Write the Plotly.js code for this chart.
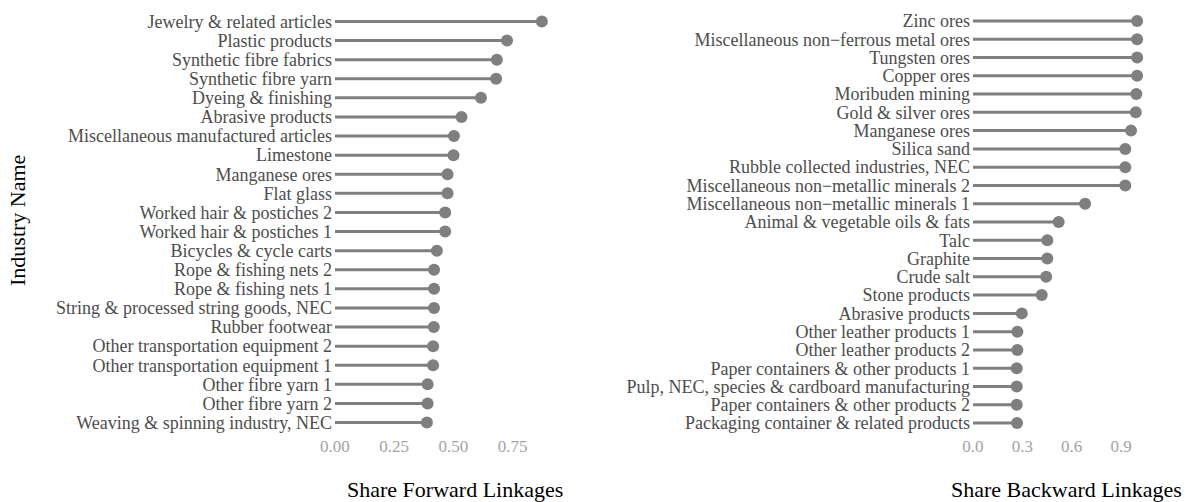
<!DOCTYPE html>
<html>
<head>
<meta charset="utf-8">
<script src="https://cdn.plot.ly/plotly-3.0.1.min.js"></script>
<style>html,body{margin:0;padding:0;background:#fff;}#chart{width:1185px;height:502px;}</style>
</head>
<body>
<div id="chart"></div>
<script>
// Forward linkages (top to bottom as drawn)
const forwardIndustries = [
  "Jewelry & related articles",
  "Plastic products",
  "Synthetic fibre fabrics",
  "Synthetic fibre yarn",
  "Dyeing & finishing",
  "Abrasive products",
  "Miscellaneous manufactured articles",
  "Limestone",
  "Manganese ores",
  "Flat glass",
  "Worked hair & postiches 2",
  "Worked hair & postiches 1",
  "Bicycles & cycle carts",
  "Rope & fishing nets 2",
  "Rope & fishing nets 1",
  "String & processed string goods, NEC",
  "Rubber footwear",
  "Other transportation equipment 2",
  "Other transportation equipment 1",
  "Other fibre yarn 1",
  "Other fibre yarn 2",
  "Weaving & spinning industry, NEC"
];
const forwardShares = [
  0.873, 0.726, 0.683, 0.680, 0.616, 0.534, 0.502, 0.500, 0.475, 0.475,
  0.465, 0.465, 0.430, 0.418, 0.418, 0.418, 0.417, 0.414, 0.414, 0.391,
  0.391, 0.388
];

// Backward linkages (top to bottom as drawn)
const backwardIndustries = [
  "Zinc ores",
  "Miscellaneous non\u2212ferrous metal ores",
  "Tungsten ores",
  "Copper ores",
  "Moribuden mining",
  "Gold & silver ores",
  "Manganese ores",
  "Silica sand",
  "Rubble collected industries, NEC",
  "Miscellaneous non\u2212metallic minerals 2",
  "Miscellaneous non\u2212metallic minerals 1",
  "Animal & vegetable oils & fats",
  "Talc",
  "Graphite",
  "Crude salt",
  "Stone products",
  "Abrasive products",
  "Other leather products 1",
  "Other leather products 2",
  "Paper containers & other products 1",
  "Pulp, NEC, species & cardboard manufacturing",
  "Paper containers & other products 2",
  "Packaging container & related products"
];
const backwardShares = [
  0.998, 0.998, 0.998, 0.998, 0.993, 0.990, 0.961, 0.926, 0.926, 0.926,
  0.682, 0.521, 0.452, 0.452, 0.445, 0.418, 0.297, 0.270, 0.270, 0.266,
  0.266, 0.266, 0.268
];

const forwardTicks = [0, 0.25, 0.5, 0.75];
const forwardTickText = ["0.00", "0.25", "0.50", "0.75"];
const backwardTicks = [0, 0.3, 0.6, 0.9];
const backwardTickText = ["0.0", "0.3", "0.6", "0.9"];

const FONT = "Liberation Serif, Times New Roman, serif";
const GREY = "#7f7f7f";

function stems(cats, vals) {
  const x = [], y = [];
  cats.forEach((c, i) => { x.push(0, vals[i], null); y.push(c, c, null); });
  return {x, y};
}

const fs = stems(forwardIndustries, forwardShares);
const bs = stems(backwardIndustries, backwardShares);

const traces = [
  {type: "scatter", mode: "lines", x: fs.x, y: fs.y, xaxis: "x", yaxis: "y",
   line: {color: GREY, width: 3}, hoverinfo: "skip", showlegend: false},
  {type: "scatter", mode: "markers", x: forwardShares, y: forwardIndustries, xaxis: "x", yaxis: "y",
   marker: {color: GREY, size: 12}, showlegend: false},
  {type: "scatter", mode: "lines", x: bs.x, y: bs.y, xaxis: "x2", yaxis: "y2",
   line: {color: GREY, width: 3}, hoverinfo: "skip", showlegend: false},
  {type: "scatter", mode: "markers", x: backwardShares, y: backwardIndustries, xaxis: "x2", yaxis: "y2",
   marker: {color: GREY, size: 12}, showlegend: false}
];

const yDomain = [(502 - 434) / 502, (502 - 10) / 502];
const tickFont = {family: FONT, size: 17, color: "#a3a3a3"};
const catFont = {family: FONT, size: 18, color: "#4d4d4d"};

const layout = {
  width: 1185, height: 502,
  margin: {l: 0, r: 0, t: 0, b: 0},
  paper_bgcolor: "#fff", plot_bgcolor: "#fff",
  font: {family: FONT},
  showlegend: false,
  xaxis: {domain: [333 / 1185, 553 / 1185], range: [-0.0084, 0.92], anchor: "y",
          tickvals: forwardTicks, ticktext: forwardTickText, tickfont: tickFont,
          showgrid: false, zeroline: false, showline: false, ticks: ""},
  yaxis: {domain: yDomain, type: "category", anchor: "x",
          categoryorder: "array", categoryarray: forwardIndustries.slice().reverse(),
          tickmode: "array", tickvals: forwardIndustries, ticktext: forwardIndustries,
          range: [-0.6, forwardIndustries.length - 0.4], tickfont: catFont,
          showgrid: false, zeroline: false, showline: false, ticks: "", ticklabelstandoff: 0},
  xaxis2: {domain: [971 / 1185, 1146 / 1185], range: [-0.012, 1.052], anchor: "y2",
           tickvals: backwardTicks, ticktext: backwardTickText, tickfont: tickFont,
           showgrid: false, zeroline: false, showline: false, ticks: ""},
  yaxis2: {domain: yDomain, type: "category", anchor: "x2",
           categoryorder: "array", categoryarray: backwardIndustries.slice().reverse(),
           tickmode: "array", tickvals: backwardIndustries, ticktext: backwardIndustries,
           range: [-0.6, backwardIndustries.length - 0.4], tickfont: catFont,
           showgrid: false, zeroline: false, showline: false, ticks: "", ticklabelstandoff: 0},
  annotations: [
    {text: "Share Forward Linkages", xref: "paper", yref: "paper", x: 455 / 1185, y: (502 - 489) / 502,
     xanchor: "center", yanchor: "middle", showarrow: false, font: {family: FONT, size: 22, color: "#000"}},
    {text: "Share Backward Linkages", xref: "paper", yref: "paper", x: 1184 / 1185, y: (502 - 489) / 502,
     xanchor: "right", yanchor: "middle", showarrow: false, font: {family: FONT, size: 22, color: "#000"}},
    {text: "Industry Name", xref: "paper", yref: "paper", x: 17 / 1185, y: (502 - 221) / 502,
     xanchor: "center", yanchor: "middle", textangle: -90, showarrow: false,
     font: {family: FONT, size: 22, color: "#000"}}
  ]
};

Plotly.newPlot("chart", traces, layout, {displayModeBar: false, staticPlot: true});
</script>
</body>
</html>
